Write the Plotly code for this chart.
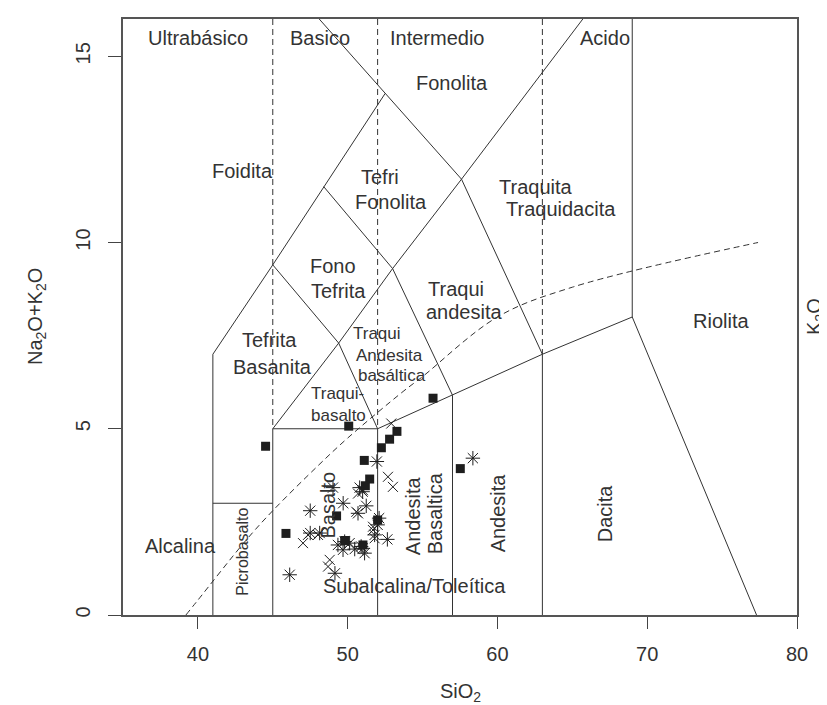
import plotly.graph_objects as go

# ---------------- data ----------------
sq_x = [55.70, 50.07, 44.52, 52.25, 52.80, 53.29, 51.11, 51.47, 51.18, 57.52, 49.26, 45.88, 49.80, 51.02, 52.00]
sq_y = [5.82, 5.07, 4.53, 4.49, 4.72, 4.93, 4.15, 3.65, 3.47, 3.93, 2.66, 2.19, 2.00, 1.88, 2.55]

ast_x = [51.95, 58.36, 49.02, 50.80, 49.70, 47.50, 51.24, 50.69, 52.10, 52.00, 47.50, 48.13, 52.65,
         49.80, 49.35, 51.02, 50.47, 51.80, 50.13, 51.13, 49.69, 46.13, 49.15, 50.90, 51.00]
ast_y = [4.12, 4.21, 3.42, 3.42, 3.00, 2.80, 2.93, 2.73, 2.60, 2.42, 2.20, 2.20, 2.03,
         1.97, 1.88, 1.79, 1.77, 2.15, 1.93, 1.66, 1.75, 1.08, 1.12, 1.84, 3.31]

crs_x = [52.91, 52.69, 53.02, 51.02, 50.69, 47.02, 48.80, 51.69, 50.58, 51.69, 51.80, 48.02, 47.35, 48.69]
crs_y = [5.14, 3.71, 3.44, 3.35, 3.26, 1.93, 1.48, 2.37, 2.77, 2.28, 2.06, 2.15, 2.15, 1.30]

# TAS field boundaries (Le Bas et al.)
bound_lines = [
    ([41, 41, 45, 48.4, 52.5], [0, 7, 9.4, 11.5, 14]),
    ([41, 45], [3, 3]),
    ([45, 45, 52, 52], [0, 5, 5, 0]),
    ([45, 49.4, 53, 57.6, 65.7], [5, 7.3, 9.3, 11.7, 16]),
    ([45, 49.4, 52], [9.4, 7.3, 5]),
    ([48.4, 53, 57, 57], [11.5, 9.3, 5.9, 0]),
    ([48.1, 52.5, 57.6, 63, 63], [16, 14, 11.7, 7, 0]),
    ([52, 57, 63, 69, 77.3], [5, 5.9, 7, 8, 0]),
    ([69, 69], [8, 16]),
]
dash_lines = [
    ([45, 45], [16, 5]),
    ([52, 52], [16, 5]),
    ([63, 63], [16, 7]),
]
# Irvine & Baragar alkaline / subalkaline divide
ib_x = [39.2, 40, 43.2, 45, 48, 50, 53.7, 55, 60, 65, 77.4]
ib_y = [0, 0.4, 2, 2.8, 4, 4.75, 6, 6.4, 8, 8.8, 10]

x_ticks = [40, 50, 60, 70, 80]
y_ticks = [0, 5, 10, 15]

# field labels: text, x, y, size, angle
labels = [
    ("Ultrabásico", 40.0, 15.49, 20, 0),
    ("Basico", 48.15, 15.49, 20, 0),
    ("Intermedio", 56.03, 15.49, 20, 0),
    ("Acido", 67.18, 15.49, 20, 0),
    ("Fonolita", 56.97, 14.29, 20, 0),
    ("Foidita", 43.01, 11.91, 20, 0),
    ("Tefri", 52.16, 11.77, 20, 0),
    ("Fonolita", 52.89, 11.08, 20, 0),
    ("Fono", 49.05, 9.36, 20, 0),
    ("Tefrita", 49.42, 8.70, 20, 0),
    ("Traquita", 62.57, 11.50, 20, 0),
    ("Traquidacita", 64.24, 10.89, 20, 0),
    ("Traqui", 57.23, 8.75, 20, 0),
    ("andesita", 57.77, 8.13, 20, 0),
    ("Tefrita", 44.81, 7.38, 20, 0),
    ("Basanita", 44.95, 6.66, 20, 0),
    ("Traqui", 51.96, 7.55, 17, 0),
    ("Andesita", 52.76, 6.98, 17, 0),
    ("basáltica", 52.96, 6.42, 17, 0),
    ("Traqui-", 49.29, 5.94, 17, 0),
    ("basalto", 49.42, 5.35, 17, 0),
    ("Riolita", 74.92, 7.89, 20, 0),
    ("Alcalina", 38.87, 1.85, 20, 0),
    ("Picrobasalto", 43.01, 1.7, 16, -90),
    ("Basalto", 48.69, 2.94, 20, -90),
    ("Andesita", 54.36, 2.68, 20, -90),
    ("Basaltica", 55.83, 2.73, 20, -90),
    ("Andesita", 60.04, 2.73, 20, -90),
    ("Dacita", 67.18, 2.73, 20, -90),
    ("Subalcalina/Toleítica", 54.43, 0.78, 20, 0),
]

LINE = "#333333"
TXT = "#333333"
MK = "#1e1e1e"
FONT = "Liberation Sans, Arial, sans-serif"

fig = go.Figure()
for xs, ys in bound_lines:
    fig.add_trace(go.Scatter(x=xs, y=ys, mode="lines", line=dict(color=LINE, width=1),
                             hoverinfo="skip", showlegend=False))
for xs, ys in dash_lines:
    fig.add_trace(go.Scatter(x=xs, y=ys, mode="lines", line=dict(color=LINE, width=1, dash="6px,4px"),
                             hoverinfo="skip", showlegend=False))
fig.add_trace(go.Scatter(x=ib_x, y=ib_y, mode="lines", line=dict(color=LINE, width=1, dash="6px,4px"),
                         line_shape="spline", hoverinfo="skip", showlegend=False))

fig.add_trace(go.Scatter(x=crs_x, y=crs_y, mode="markers", showlegend=False,
                         marker=dict(symbol="x-thin-open", size=10, color=MK,
                                     line=dict(color=MK, width=1))))
fig.add_trace(go.Scatter(x=ast_x, y=ast_y, mode="markers", showlegend=False,
                         marker=dict(symbol="asterisk-open", size=12, color=MK,
                                     line=dict(color=MK, width=1))))
fig.add_trace(go.Scatter(x=sq_x, y=sq_y, mode="markers", showlegend=False,
                         marker=dict(symbol="square", size=9, color=MK, line=dict(width=0))))

annotations = []
for t, x, y, s, a in labels:
    annotations.append(dict(text=t, x=x, y=y, xref="x", yref="y", showarrow=False,
                            textangle=a, font=dict(size=s, color=TXT, family=FONT),
                            xanchor="center", yanchor="middle"))
annotations += [
    dict(text="Na<sub>2</sub>O+K<sub>2</sub>O", x=0, y=0.5, xref="paper", yref="paper",
         xanchor="center", yanchor="middle", xshift=-87, textangle=-90, showarrow=False,
         font=dict(size=20, color=TXT, family=FONT)),
    dict(text="SiO<sub>2</sub>", x=0.5, y=0, xref="paper", yref="paper",
         xanchor="center", yanchor="middle", yshift=-77, showarrow=False,
         font=dict(size=20, color=TXT, family=FONT)),
    dict(text="K<sub>2</sub>O", x=1, y=0.5, xref="paper", yref="paper",
         xanchor="center", yanchor="middle", xshift=18, textangle=-90, showarrow=False,
         font=dict(size=20, color=TXT, family=FONT)),
]

fig.update_layout(
    width=827, height=705,
    margin=dict(l=115, r=38, t=9, b=98, pad=0),
    paper_bgcolor="white", plot_bgcolor="white",
    font=dict(family=FONT, size=20, color=TXT),
    annotations=annotations,
    xaxis=dict(range=[35, 80], tickvals=x_ticks, ticks="outside", ticklen=12, tickcolor="#444",
               showline=True, mirror=True, linecolor="#555", linewidth=1.5, showgrid=False,
               zeroline=False, ticklabelstandoff=8, tickfont=dict(size=20, color=TXT)),
    yaxis=dict(range=[0, 16], tickvals=y_ticks, ticks="outside", ticklen=13, tickcolor="#444",
               showline=True, mirror=True, linecolor="#555", linewidth=1.5, showgrid=False,
               zeroline=False, tickangle=-90, ticklabelstandoff=10, tickfont=dict(size=20, color=TXT)),
)

fig.write_html("out.html")
